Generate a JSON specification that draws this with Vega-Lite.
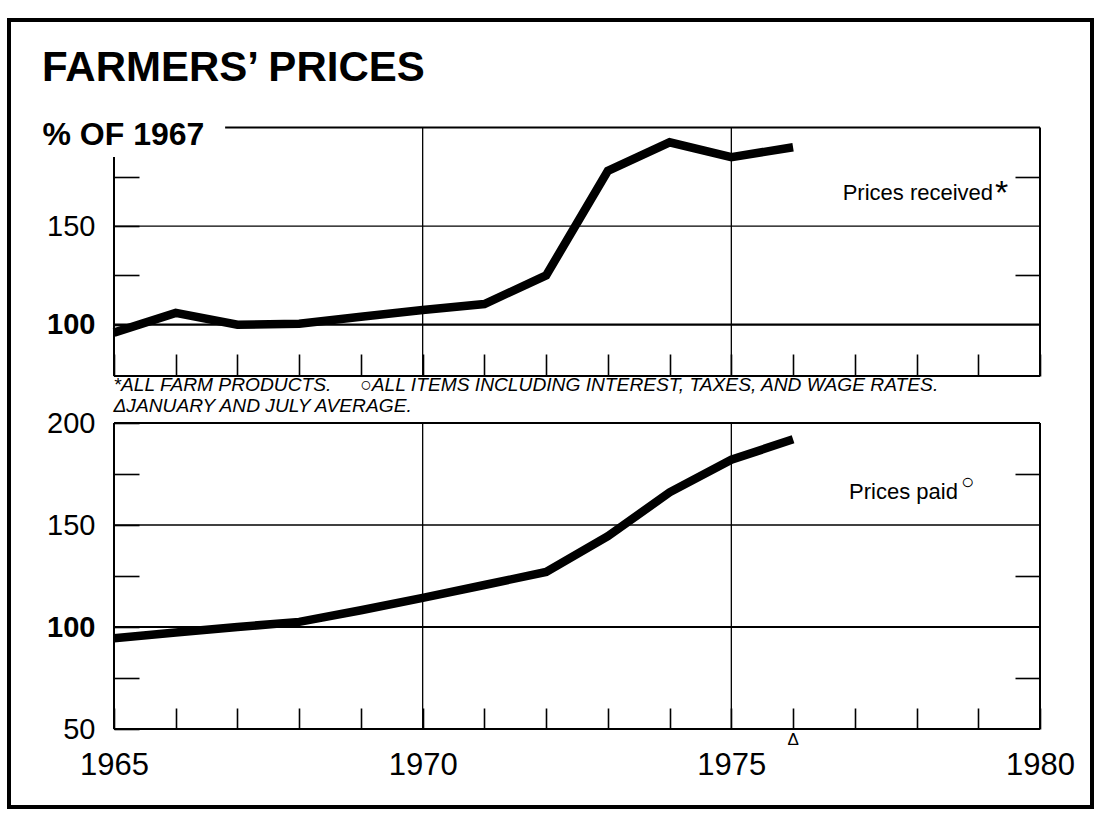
{
  "$schema": "https://vega.github.io/schema/vega-lite/v6.json",
  "width": 1083,
  "height": 787,
  "autosize": "none",
  "padding": {"left": 9, "top": 20, "right": 7, "bottom": 10},
  "background": "white",
  "config": {
    "font": "Liberation Sans",
    "view": {"stroke": "black", "strokeWidth": 4},
    "axis": {"domain": false, "grid": false, "tickColor": "black", "tickWidth": 1.6, "labelColor": "black", "titleColor": "black", "labelFont": "Liberation Sans", "titleFont": "Liberation Sans", "labelFlush": false, "labelOverlap": false, "labelBound": false}
  },
  "title": {"text": "FARMERS\u2019 PRICES", "anchor": "start", "frame": "group", "orient": "top", "offset": 0, "baseline": "alphabetic", "dx": 33, "dy": 103, "fontSize": 42, "fontWeight": "bold", "font": "Liberation Sans", "color": "black"},
  "data": {"values": [{}]},
  "resolve": {"scale": {"y": "independent"}, "axis": {"x": "independent", "y": "independent"}},
  "layer": [
    {
      "resolve": {"axis": {"x": "independent", "y": "independent"}},
      "layer": [
        {"mark": {"type": "rule", "color": "black", "strokeWidth": 1.3},
         "encoding": {"x": {"datum": 1965, "type": "quantitative", "scale": {"domain": [1965, 1980], "range": [105, 1031], "nice": false, "zero": false}, "axis": null},
                      "x2": {"datum": 1980},
                      "y": {"datum": 150, "type": "quantitative", "scale": {"domain": [74, 200], "range": [356, 107.5], "nice": false, "zero": false}, "axis": null}}},
        {"mark": {"type": "rule", "color": "black", "strokeWidth": 2.2},
         "encoding": {"x": {"datum": 1965, "type": "quantitative", "axis": null},
                      "x2": {"datum": 1980},
                      "y": {"datum": 100, "type": "quantitative", "axis": null}}},
        {"data": {"values": [{"year": 1970}, {"year": 1975}]},
         "mark": {"type": "rule", "color": "black", "strokeWidth": 1.3},
         "encoding": {"x": {"field": "year", "type": "quantitative", "axis": null},
                      "y": {"datum": 74, "type": "quantitative", "axis": null},
                      "y2": {"datum": 200}}},
        {"mark": {"type": "rule", "color": "black", "strokeWidth": 2},
         "encoding": {"x": {"datum": 1966.8, "type": "quantitative", "axis": null},
                      "x2": {"datum": 1980},
                      "y": {"datum": 200, "type": "quantitative", "axis": null}}},
        {"mark": {"type": "rule", "color": "black", "strokeWidth": 2},
         "encoding": {"x": {"datum": 1965, "type": "quantitative", "axis": null},
                      "x2": {"datum": 1980},
                      "y": {"datum": 74, "type": "quantitative", "axis": null}}},
        {"mark": {"type": "rule", "color": "black", "strokeWidth": 2},
         "encoding": {"x": {"datum": 1965, "type": "quantitative", "axis": null},
                      "y": {"datum": 74, "type": "quantitative", "axis": null},
                      "y2": {"datum": 185}}},
        {"mark": {"type": "rule", "color": "black", "strokeWidth": 2},
         "encoding": {"x": {"datum": 1980, "type": "quantitative", "axis": null},
                      "y": {"datum": 74, "type": "quantitative",
                            "axis": {"orient": "right", "offset": -52, "values": [125, 175], "tickSize": -25, "labels": false, "title": null}},
                      "y2": {"datum": 200}}},
        {"data": {"values": [
           {"year": 1965, "index": 96}, {"year": 1966, "index": 106}, {"year": 1967, "index": 100},
           {"year": 1968, "index": 100.5}, {"year": 1969, "index": 104}, {"year": 1970, "index": 107.5},
           {"year": 1971, "index": 110.5}, {"year": 1972, "index": 125}, {"year": 1973, "index": 178},
           {"year": 1974, "index": 192.5}, {"year": 1975, "index": 185}, {"year": 1976, "index": 190}]},
         "mark": {"type": "line", "color": "black", "strokeWidth": 8.5, "strokeCap": "butt", "strokeJoin": "miter"},
         "encoding": {
           "x": {"field": "year", "type": "quantitative",
                 "axis": {"orient": "bottom", "offset": -431, "values": [1965,1966,1967,1968,1969,1970,1971,1972,1973,1974,1975,1976,1977,1978,1979,1980], "tickSize": -22, "labels": false,
                          "title": ["*ALL FARM PRODUCTS.\u2002\u2002\u2002\u25cbALL ITEMS INCLUDING INTEREST, TAXES, AND WAGE RATES.", "\u0394JANUARY AND JULY AVERAGE."],
                          "titleX": 104, "titleY": 14, "titleAlign": "left", "titleAngle": 0, "titleBaseline": "alphabetic", "titleFontSize": 19.2, "titleFontStyle": "italic", "titleFontWeight": "normal", "titleLineHeight": 21}},
           "y": {"field": "index", "type": "quantitative",
                 "axis": {"orient": "left", "offset": -105, "values": [100, 125, 150, 175], "tickSize": -25,
                          "labelExpr": "datum.value == 100 || datum.value == 150 ? datum.label : ''",
                          "labelFontSize": 29, "labelFontWeight": {"condition": {"test": "datum.value == 100", "value": "bold"}, "value": "normal"}, "labelPadding": 44,
                          "title": "% OF 1967", "titleAngle": 0, "titleAlign": "left", "titleBaseline": "alphabetic", "titleX": -72, "titleY": 124, "titleFontSize": 32, "titleFontWeight": "bold"}}}},
        {"mark": {"type": "text", "text": "Prices received", "align": "right", "baseline": "alphabetic", "fontSize": 22, "color": "black"},
         "encoding": {"x": {"datum": 1979.24, "type": "quantitative", "axis": null},
                      "y": {"datum": 163, "type": "quantitative", "axis": null}}},
        {"mark": {"type": "text", "text": "*", "align": "left", "baseline": "alphabetic", "fontSize": 34, "color": "black"},
         "encoding": {"x": {"datum": 1979.27, "type": "quantitative", "axis": null},
                      "y": {"datum": 161, "type": "quantitative", "axis": null}}}
      ]
    },
    {
      "resolve": {"axis": {"x": "independent", "y": "independent"}},
      "layer": [
        {"mark": {"type": "rule", "color": "black", "strokeWidth": 1.3},
         "encoding": {"x": {"datum": 1965, "type": "quantitative", "axis": null},
                      "x2": {"datum": 1980},
                      "y": {"datum": 150, "type": "quantitative", "scale": {"domain": [50, 200], "range": [709, 403], "nice": false, "zero": false}, "axis": null}}},
        {"mark": {"type": "rule", "color": "black", "strokeWidth": 2.2},
         "encoding": {"x": {"datum": 1965, "type": "quantitative", "axis": null},
                      "x2": {"datum": 1980},
                      "y": {"datum": 100, "type": "quantitative", "axis": null}}},
        {"data": {"values": [{"year": 1970}, {"year": 1975}]},
         "mark": {"type": "rule", "color": "black", "strokeWidth": 1.3},
         "encoding": {"x": {"field": "year", "type": "quantitative", "axis": null},
                      "y": {"datum": 50, "type": "quantitative", "axis": null},
                      "y2": {"datum": 200}}},
        {"data": {"values": [{"v": 50}, {"v": 200}]},
         "mark": {"type": "rule", "color": "black", "strokeWidth": 2},
         "encoding": {"x": {"datum": 1965, "type": "quantitative", "axis": null},
                      "x2": {"datum": 1980},
                      "y": {"field": "v", "type": "quantitative", "axis": null}}},
        {"data": {"values": [{"year": 1965}, {"year": 1980}]},
         "mark": {"type": "rule", "color": "black", "strokeWidth": 2},
         "encoding": {"x": {"field": "year", "type": "quantitative", "axis": null},
                      "y": {"datum": 50, "type": "quantitative",
                            "axis": {"orient": "right", "offset": -52, "values": [75, 125, 175], "tickSize": -25, "labels": false, "title": null}},
                      "y2": {"datum": 200}}},
        {"data": {"values": [
           {"year": 1965, "index": 94.5}, {"year": 1966, "index": 97.3}, {"year": 1967, "index": 100},
           {"year": 1968, "index": 102.5}, {"year": 1969, "index": 108.2}, {"year": 1970, "index": 114.3},
           {"year": 1971, "index": 120.6}, {"year": 1972, "index": 127}, {"year": 1973, "index": 144.5},
           {"year": 1974, "index": 166}, {"year": 1975, "index": 182}, {"year": 1976, "index": 192}]},
         "mark": {"type": "line", "color": "black", "strokeWidth": 8.5, "strokeCap": "butt", "strokeJoin": "miter"},
         "encoding": {
           "x": {"field": "year", "type": "quantitative",
                 "axis": {"orient": "bottom", "offset": -78, "values": [1965,1966,1967,1968,1969,1970,1971,1972,1973,1974,1975,1976,1977,1978,1979,1980], "tickSize": -21,
                          "format": "d", "labelExpr": "datum.value % 5 == 0 ? datum.label : ''", "labelFontSize": 31, "labelPadding": 66.5, "labelBaseline": "alphabetic", "title": null}},
           "y": {"field": "index", "type": "quantitative",
                 "axis": {"orient": "left", "offset": -105, "values": [50, 75, 100, 125, 150, 175, 200], "tickSize": -25,
                          "labelExpr": "datum.value % 50 == 0 ? datum.label : ''",
                          "labelFontSize": 29, "labelFontWeight": {"condition": {"test": "datum.value == 100", "value": "bold"}, "value": "normal"}, "labelPadding": 44, "title": null}}}},
        {"mark": {"type": "text", "text": "Prices paid", "align": "right", "baseline": "alphabetic", "fontSize": 22, "color": "black"},
         "encoding": {"x": {"datum": 1978.67, "type": "quantitative", "axis": null},
                      "y": {"datum": 162.7, "type": "quantitative", "axis": null}}},
        {"mark": {"type": "text", "text": "\u25cb", "align": "left", "baseline": "middle", "fontSize": 22, "color": "black"},
         "encoding": {"x": {"datum": 1978.72, "type": "quantitative", "axis": null},
                      "y": {"datum": 171, "type": "quantitative", "axis": null}}},
        {"mark": {"type": "text", "text": "\u0394", "align": "center", "baseline": "top", "fontSize": 17, "dy": 3, "color": "black"},
         "encoding": {"x": {"datum": 1976, "type": "quantitative", "axis": null},
                      "y": {"datum": 50, "type": "quantitative", "axis": null}}}
      ]
    }
  ]
}
